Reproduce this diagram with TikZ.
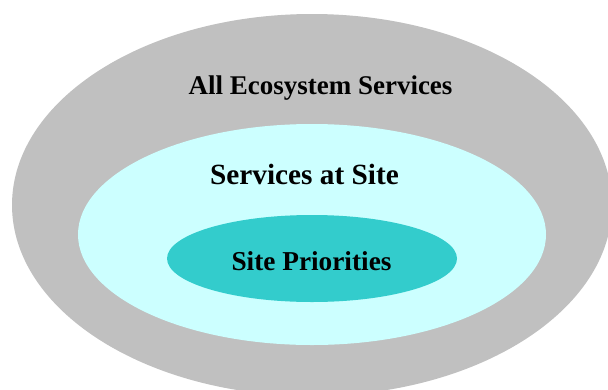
\documentclass[tikz,border=0pt]{standalone}
\usepackage{fontspec}
\setmainfont{Liberation Serif}
\definecolor{outergray}{HTML}{C0C0C0}
\definecolor{lightcyan}{HTML}{CCFFFF}
\definecolor{tealfill}{HTML}{33CCCC}
\begin{document}
\begin{tikzpicture}[x=1pt,y=-1pt,
  lbl/.style={anchor=base,inner sep=0pt,font=\bfseries\fontsize{27}{27}\selectfont,text=black}]
\useasboundingbox (0,0) rectangle (608,389);
\fill[white] (0,0) rectangle (608,389);
\fill[outergray] (312,205) ellipse [x radius=300, y radius=191];
\fill[lightcyan] (312,234.5) ellipse [x radius=234, y radius=110.5];
\fill[tealfill] (312,258.5) ellipse [x radius=145, y radius=43.5];
\node[lbl] (all) at (320.5,94) {All Ecosystem Services};
\node[lbl,font=\bfseries\fontsize{29.3}{29.3}\selectfont] (site) at (304.5,184.5) {Services at Site};
\node[lbl,font=\bfseries\fontsize{27.3}{27.3}\selectfont] (prio) at (311.5,270) {Site Priorities};
\end{tikzpicture}
\end{document}
